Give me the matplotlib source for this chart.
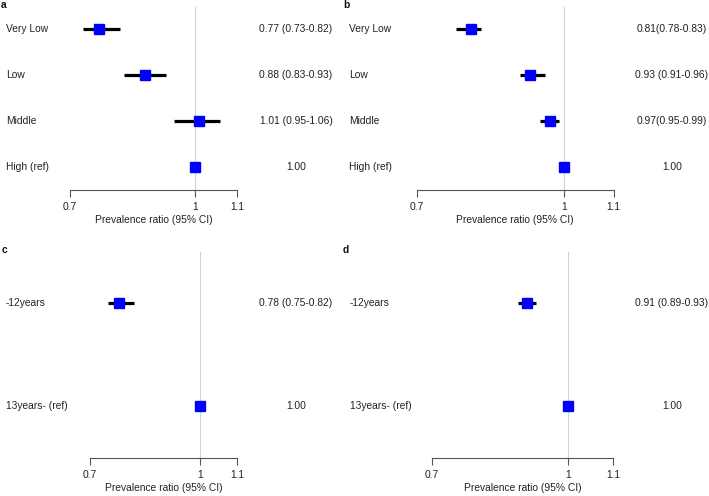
import matplotlib
matplotlib.use("Agg")
import matplotlib.pyplot as plt
from matplotlib import transforms

plt.rcParams['font.family'] = ['Liberation Sans', 'DejaVu Sans']

# ---------------- data ----------------
income_labels = ["Very Low", "Low", "Middle", "High (ref)"]
a_pr = [0.77, 0.88, 1.01, 1.00]
a_lo = [0.73, 0.83, 0.95, None]
a_hi = [0.82, 0.93, 1.06, None]
a_txt = ["0.77 (0.73-0.82)", "0.88 (0.83-0.93)", "1.01 (0.95-1.06)", "1.00"]

b_pr = [0.81, 0.93, 0.97, 1.00]
b_lo = [0.78, 0.91, 0.95, None]
b_hi = [0.83, 0.96, 0.99, None]
b_txt = ["0.81(0.78-0.83)", "0.93 (0.91-0.96)", "0.97(0.95-0.99)", "1.00"]

edu_labels = ["-12years", "13years- (ref)"]
c_pr = [0.78, 1.00]
c_lo = [0.75, None]
c_hi = [0.82, None]
c_txt = ["0.78 (0.75-0.82)", "1.00"]

d_pr = [0.91, 1.00]
d_lo = [0.89, None]
d_hi = [0.93, None]
d_txt = ["0.91 (0.89-0.93)", "1.00"]

xticks = [0.7, 1, 1.1]
xtick_labels = ["0.7", "1", "1.1"]
xlabel = "Prevalence ratio (95% CI)"

# ---------------- layout (pixels) ----------------
W, H = 709, 496
FS = 7.4

fig = plt.figure(figsize=(W / 100, H / 100), dpi=100)

panels = [
    # letter, labels, pr, lo, hi, txt, letter_xy, label_x, x07, x11, ytop, ybot, row0, dy, txt_x
    ("a", income_labels, a_pr, a_lo, a_hi, a_txt, (1, 5), 6, 70, 237, 7, 190, 29, 46, 296),
    ("b", income_labels, b_pr, b_lo, b_hi, b_txt, (343, 5), 349, 417, 613.5, 7, 190, 29, 46, 672),
    ("c", edu_labels, c_pr, c_lo, c_hi, c_txt, (2, 250), 6, 90, 237, 252, 458, 303, 103, 296),
    ("d", edu_labels, d_pr, d_lo, d_hi, d_txt, (343, 250), 350, 432, 613, 252, 458, 303, 103, 672),
]

for (letter, labels, pr, lo, hi, txt, lxy, label_x, x07, x11,
     ytop, ybot, row0, dy, txt_x) in panels:
    ax = fig.add_axes([x07 / W, 1 - ybot / H, (x11 - x07) / W, (ybot - ytop) / H])
    n = len(labels)
    rows = list(range(n))
    ax.set_xlim(0.7, 1.1)
    ax.set_ylim((ybot - row0) / dy, (ytop - row0) / dy)
    ax.patch.set_alpha(0)

    ax.axvline(1, color="#d3d3d3", lw=0.8, zorder=1)

    ci_rows = [r for r, l in zip(rows, lo) if l is not None]
    ci_lo = [l for l in lo if l is not None]
    ci_hi = [h for h in hi if h is not None]
    ax.hlines(ci_rows, ci_lo, ci_hi, color="black", lw=2.3, zorder=2)
    ax.plot(pr, rows, linestyle="none", marker="s", ms=7.3,
            color="#0000ff", mec="#0000ff", zorder=3)

    for s in ("top", "left", "right"):
        ax.spines[s].set_visible(False)
    ax.spines["bottom"].set_color("#555555")
    ax.spines["bottom"].set_linewidth(0.8)
    ax.set_yticks([])
    ax.set_xticks(xticks)
    ax.set_xticklabels(xtick_labels)
    ax.tick_params(axis="x", direction="out", length=5, width=0.8,
                   color="#555555", labelsize=FS, pad=4, labelcolor="#222222")

    tr = transforms.blended_transform_factory(fig.transFigure, ax.transData)
    for r, lab, t in zip(rows, labels, txt):
        ax.text(label_x / W, r, lab, transform=tr, ha="left", va="center",
                fontsize=FS, color="#222222")
        ax.text(txt_x / W, r, t, transform=tr, ha="center", va="center",
                fontsize=FS, color="#222222")

    fig.text(lxy[0] / W, 1 - lxy[1] / H, letter, ha="left", va="center",
             fontsize=FS, fontweight="bold", color="#111111")
    fig.text((x07 + x11) / 2 / W, 1 - (ybot + 30) / H, xlabel,
             ha="center", va="center", fontsize=FS, color="#222222")

fig.savefig("out.png", dpi=100)
